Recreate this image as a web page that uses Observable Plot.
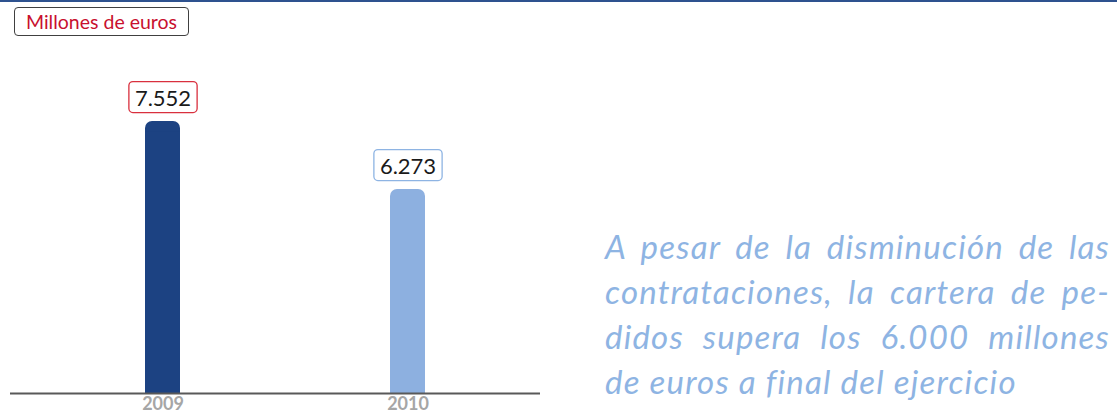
<!DOCTYPE html>
<html>
<head>
<meta charset="utf-8">
<script src="https://cdn.jsdelivr.net/npm/d3@7"></script>
<script src="https://cdn.jsdelivr.net/npm/@observablehq/plot@0.6"></script>
<style>
  body { margin: 0; background: #fff; width: 1117px; height: 414px; overflow: hidden; position: relative; font-family: Lato, "Open Sans", sans-serif; }
  #topline { position: absolute; left: 0; top: 0; width: 1117px; height: 2px; background: #2e528f; }
  #unit { position: absolute; left: 14px; top: 7px; width: 173px; height: 27px; border: 1px solid #404040; border-radius: 4px; color: #c8102e; font-size: 19.5px; line-height: 27px; text-align: center; box-sizing: content-box; }
  #chart { position: absolute; left: 0; top: 40px; }
  #chart svg { overflow: visible; }
  #note { position: absolute; left: 605px; top: 224px; width: 505px; color: #8eb4e3; font-style: italic; font-size: 33px; line-height: 45px; letter-spacing: 1.2px; }
  #note div { text-align: justify; text-align-last: justify; white-space: nowrap; }
  #note div.last { text-align-last: left; }
</style>
</head>
<body>
<div id="topline"></div>
<div id="unit">Millones de euros</div>
<div id="chart"></div>
<div id="note"></div>
<script>
const years = ["2009", "2010"];
const values = [7552, 6273];
const barColors = ["#1c4282", "#8db0e0"];
const boxColors = ["#d9303e", "#8eb4e3"];
const labels = ["7.552", "6.273"];
const noteLines = [
  "A pesar de la disminución de las",
  "contrataciones, la cartera de pe-",
  "didos supera los 6.000 millones",
  "de euros a final del ejercicio"
];

const data = years.map((y, i) => ({year: y, value: values[i], label: labels[i], color: barColors[i], box: boxColors[i]}));
const yBase = 2440;

const plot = Plot.plot({
  width: 560,
  height: 374,
  marginLeft: 10,
  marginRight: 20,
  marginTop: 0,
  marginBottom: 21,
  style: {fontFamily: "Lato, 'Open Sans', sans-serif", background: "transparent", overflow: "visible"},
  x: {domain: years, paddingInner: 0.857, paddingOuter: 0.51, align: 0.54, label: null},
  y: {domain: [yBase, 9074], axis: null},
  marks: [
    Plot.barY(data, {x: "year", y1: yBase, y2: "value", fill: "color", rx: 7}),
    Plot.barY(data, {x: "year", y1: yBase, y2: d => d.value - 200, fill: "color"}),
    Plot.ruleY([yBase], {stroke: "#595959", strokeWidth: 2}),
    Plot.axisX({tickSize: 0, tickPadding: 4, fontSize: 18, fontWeight: "bold", fill: "#a6a6a6", label: null}),
    Plot.text(data, {x: "year", y: "value", text: "label", dy: -23, fontSize: 22, fill: "#1a1a1a"})
  ]
});
document.getElementById("chart").appendChild(plot);

// boxes around the value labels
const svgNS = "http://www.w3.org/2000/svg";
Array.from(plot.querySelectorAll("text")).forEach(t => {
  const i = labels.indexOf(t.textContent.trim());
  if (i < 0) return;
  const b = t.getBBox();
  const r = document.createElementNS(svgNS, "rect");
  const padX = 6, padY = 2;
  r.setAttribute("x", b.x - padX);
  r.setAttribute("y", b.y - padY);
  r.setAttribute("width", b.width + 2 * padX);
  r.setAttribute("height", b.height + 2 * padY);
  r.setAttribute("rx", 4);
  r.setAttribute("fill", "#fff");
  r.setAttribute("stroke", boxColors[i]);
  r.setAttribute("stroke-width", 1.3);
  const tr = t.getAttribute("transform");
  if (tr) r.setAttribute("transform", tr);
  t.parentNode.insertBefore(r, t);
});

const note = document.getElementById("note");
noteLines.forEach((line, i) => {
  const d = document.createElement("div");
  d.textContent = line;
  if (i === noteLines.length - 1) d.className = "last";
  note.appendChild(d);
});
</script>
</body>
</html>
